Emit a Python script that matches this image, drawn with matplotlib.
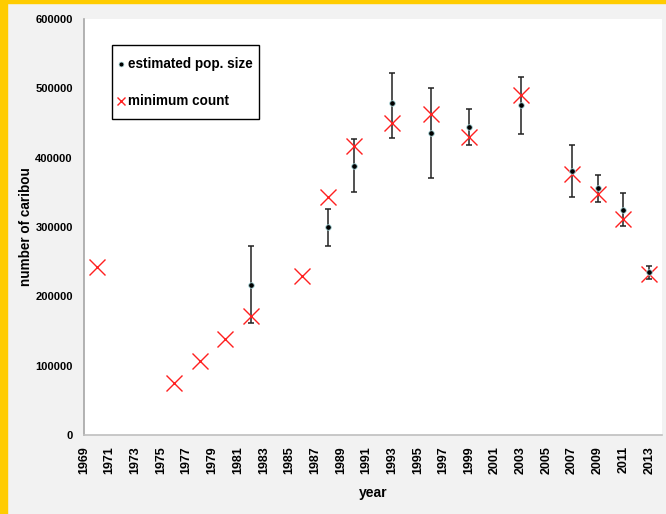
import matplotlib.pyplot as plt
from matplotlib.patches import Rectangle

plt.rcParams['font.family'] = ['Liberation Sans', 'DejaVu Sans']
plt.rcParams['font.weight'] = 'bold'

# minimum counts
count_years = [1970, 1976, 1978, 1980, 1982, 1986, 1988, 1990, 1993, 1996,
               1999, 2003, 2007, 2009, 2011, 2013]
min_count = [242000, 75000, 107000, 138000, 172000, 229000, 343000, 417000,
             450000, 463000, 430000, 490000, 377000, 348000, 312000, 232000]

# estimated population size with confidence limits
est_years = [1982, 1988, 1990, 1993, 1996, 1999, 2003, 2007, 2009, 2011, 2013]
est_size = [217000, 300000, 388000, 479000, 436000, 444000, 476000, 381000,
            356000, 325000, 235000]
est_low = [161000, 273000, 350000, 428000, 371000, 419000, 434000, 344000,
           336000, 301000, 225000]
est_high = [273000, 326000, 427000, 522000, 501000, 470000, 517000, 419000,
            375000, 349000, 244000]

year_ticks = list(range(1969, 2014, 2))
y_ticks = [0, 100000, 200000, 300000, 400000, 500000, 600000]

fig = plt.figure(figsize=(6.66, 5.14), dpi=100, facecolor='#F2F2F2')
ax = fig.add_axes([0.1261, 0.1537, 0.994 - 0.1261, 0.963 - 0.1537])
ax.set_facecolor('white')

# yellow frame on left and top
fig.patches.append(Rectangle((0, 0), 7 / 666, 1, transform=fig.transFigure,
                             color='#FFCC00', zorder=10))
fig.patches.append(Rectangle((0, 1 - 3 / 514), 1, 3 / 514, transform=fig.transFigure,
                             color='#FFCC00', zorder=10))

yerr = [[s - l for s, l in zip(est_size, est_low)],
        [h - s for s, h in zip(est_size, est_high)]]
ax.errorbar(est_years, est_size, yerr=yerr, fmt='none', ecolor='#222222',
            elinewidth=1.1, capsize=2, capthick=1.1, zorder=2)
ax.plot(count_years, min_count, linestyle='none', marker='x', color='#FF2020',
        markersize=11, markeredgewidth=1.0, zorder=3)
ax.plot(est_years, est_size, linestyle='none', marker='o', color='black',
        markersize=4, markeredgecolor='#A8D8DC', markeredgewidth=0.6, zorder=4)

ax.set_xlim(1969, 2014)
ax.set_ylim(0, 600000)
ax.set_xticks(year_ticks)
ax.set_xticklabels([str(y) for y in year_ticks], rotation=90, fontsize=9, fontweight='bold')
ax.set_yticks(y_ticks)
ax.set_yticklabels([str(v) for v in y_ticks], fontsize=8, fontweight='bold')
ax.tick_params(axis='x', length=0, pad=8)
ax.tick_params(axis='y', length=0, pad=8)

for side in ['top', 'right']:
    ax.spines[side].set_visible(False)
ax.spines['left'].set_color('#A6A6A6')
ax.spines['bottom'].set_color('#BFBFBF')
ax.spines['left'].set_linewidth(1.2)
ax.spines['bottom'].set_linewidth(1.2)

ax.set_xlabel('year', fontsize=10, fontweight='bold', labelpad=9)
ax.set_ylabel('number of caribou', fontsize=9.75, fontweight='bold', labelpad=2)

# legend box drawn by hand to match the original placement
ax.add_patch(Rectangle((0.0484, 0.7596), 0.3028 - 0.0484, 0.9375 - 0.7596,
                       transform=ax.transAxes, facecolor='white', edgecolor='black',
                       linewidth=1.0, zorder=5))
ax.plot([0.064], [0.8918], transform=ax.transAxes, marker='o', color='black',
        markersize=3.5, markeredgecolor='#A8D8DC', markeredgewidth=0.5,
        linestyle='none', zorder=6, clip_on=False)
ax.plot([0.064], [0.8029], transform=ax.transAxes, marker='x', color='#FF2020',
        markersize=6, markeredgewidth=1.0, linestyle='none', zorder=6, clip_on=False)
ax.text(0.0761, 0.8918, 'estimated pop. size', transform=ax.transAxes,
        fontsize=9.75, fontweight='bold', va='center', ha='left', zorder=6)
ax.text(0.0761, 0.8029, 'minimum count', transform=ax.transAxes,
        fontsize=9.75, fontweight='bold', va='center', ha='left', zorder=6)

fig.savefig('out.png', dpi=100, facecolor=fig.get_facecolor())
